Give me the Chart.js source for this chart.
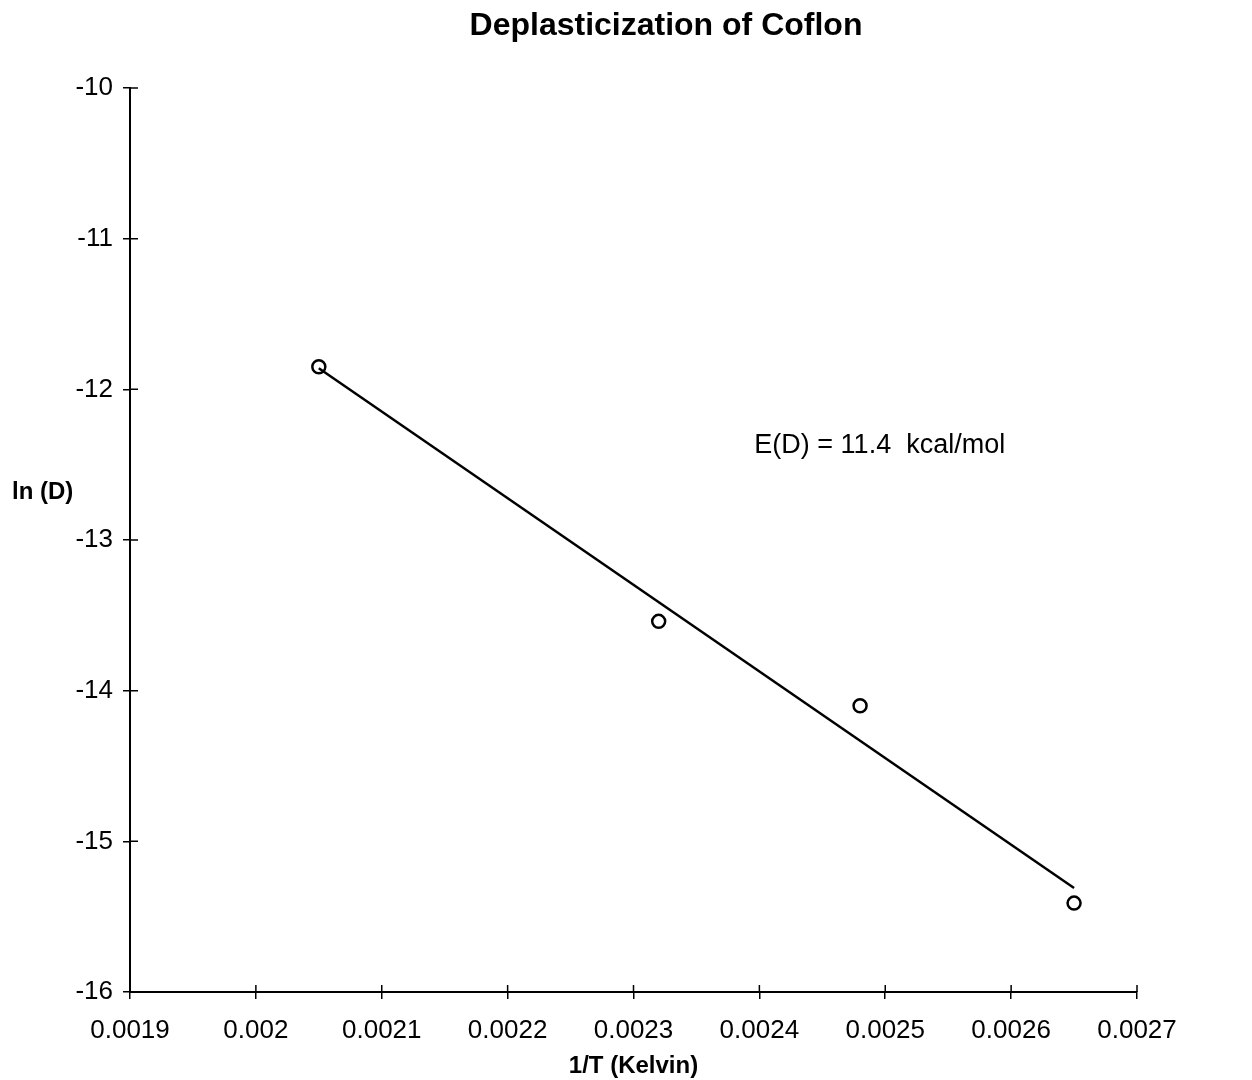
<!DOCTYPE html>
<html>
<head>
<meta charset="utf-8">
<title>Deplasticization of Coflon</title>
<script src="https://cdn.jsdelivr.net/npm/chart.js@4.4.1/dist/chart.umd.min.js"></script>
<style>
    html, body { margin: 0; padding: 0; background: #fff; }
    #wrap { width: 1252px; height: 1080px; position: relative; }
</style>
</head>
<body>
<div id="wrap"><canvas id="chart" width="1252" height="1080"></canvas></div>
<script>
// Measured points: 1/T vs ln(D)
const invTemp = [0.00205, 0.00232, 0.00248, 0.00265];
const lnD = [-11.85, -13.54, -14.10, -15.41];

// Least squares fit line ends
const fitX = [0.00205, 0.00265];
const fitY = [-11.86, -15.31];

// Axis ticks
const xTicks = [0.0019, 0.002, 0.0021, 0.0022, 0.0023, 0.0024, 0.0025, 0.0026, 0.0027];
const xTickLabels = ['0.0019', '0.002', '0.0021', '0.0022', '0.0023', '0.0024', '0.0025', '0.0026', '0.0027'];
const yTicks = [-10, -11, -12, -13, -14, -15, -16];

const titleText = 'Deplasticization of Coflon';
const xTitle = '1/T (Kelvin)';
const yTitle = 'ln (D)';
const noteText = 'E(D) = 11.4  kcal/mol';
const notePos = [0.002396, -12.37];

const FONT = '"Liberation Sans", Arial, Helvetica, sans-serif';

// Draws titles, note and the inner half of each tick mark
const extrasPlugin = {
    id: 'extras',
    afterDraw(chart) {
        const ctx = chart.ctx;
        const xs = chart.scales.x;
        const ys = chart.scales.y;
        const area = chart.chartArea;

        ctx.save();
        ctx.strokeStyle = '#000';
        ctx.lineWidth = 1.5;
        ctx.beginPath();
        xTicks.forEach(v => {
            const px = xs.getPixelForValue(v);
            ctx.moveTo(px, area.bottom);
            ctx.lineTo(px, area.bottom - 7);
        });
        yTicks.forEach(v => {
            const py = ys.getPixelForValue(v);
            ctx.moveTo(area.left, py);
            ctx.lineTo(area.left + 8, py);
        });
        ctx.stroke();

        ctx.fillStyle = '#000';
        ctx.textBaseline = 'middle';

        // chart title
        ctx.font = 'bold 32px ' + FONT;
        ctx.textAlign = 'center';
        ctx.fillText(titleText, 666, 26);

        // x axis title
        ctx.font = 'bold 24px ' + FONT;
        ctx.fillText(xTitle, (area.left + area.right) / 2, 1066);

        // y axis title
        ctx.textAlign = 'left';
        ctx.fillText(yTitle, 12, 492);

        // activation energy note
        ctx.font = '27px ' + FONT;
        ctx.fillText(noteText, xs.getPixelForValue(notePos[0]), ys.getPixelForValue(notePos[1]));
        ctx.restore();
    }
};

const ctx = document.getElementById('chart').getContext('2d');
new Chart(ctx, {
    type: 'scatter',
    data: {
        datasets: [
            {
                label: 'ln(D)',
                data: invTemp.map((x, i) => ({ x: x, y: lnD[i] })),
                pointStyle: 'circle',
                pointRadius: 6.5,
                pointBorderWidth: 2.5,
                borderColor: '#000',
                backgroundColor: 'rgba(0,0,0,0)',
                showLine: false
            },
            {
                label: 'fit',
                data: fitX.map((x, i) => ({ x: x, y: fitY[i] })),
                showLine: true,
                pointRadius: 0,
                borderColor: '#000',
                borderWidth: 2.5,
                fill: false
            }
        ]
    },
    options: {
        responsive: false,
        animation: false,
        layout: {
            padding: { top: 88, right: 115, bottom: 0, left: 0 }
        },
        plugins: {
            legend: { display: false },
            title: { display: false },
            tooltip: { enabled: false }
        },
        scales: {
            x: {
                type: 'linear',
                min: 0.0019,
                max: 0.0027,
                afterBuildTicks: scale => {
                    scale.ticks = xTicks.map(v => ({ value: v }));
                },
                afterFit: scale => { scale.height = 88; },
                ticks: {
                    color: '#000',
                    font: { family: FONT, size: 26 },
                    padding: 16,
                    maxRotation: 0,
                    autoSkip: false,
                    callback: (value, index) => xTickLabels[index]
                },
                grid: {
                    drawOnChartArea: false,
                    drawTicks: true,
                    tickLength: 7,
                    color: '#000',
                    lineWidth: 1.5
                },
                border: { display: true, color: '#000', width: 2 }
            },
            y: {
                type: 'linear',
                min: -16,
                max: -10,
                afterBuildTicks: scale => {
                    scale.ticks = yTicks.map(v => ({ value: v }));
                },
                afterFit: scale => { scale.width = 130; },
                ticks: {
                    color: '#000',
                    font: { family: FONT, size: 26 },
                    padding: 10,
                    autoSkip: false,
                    callback: value => String(value)
                },
                grid: {
                    drawOnChartArea: false,
                    drawTicks: true,
                    tickLength: 7,
                    color: '#000',
                    lineWidth: 1.5
                },
                border: { display: true, color: '#000', width: 2 }
            }
        }
    },
    plugins: [extrasPlugin]
});
</script>
</body>
</html>
